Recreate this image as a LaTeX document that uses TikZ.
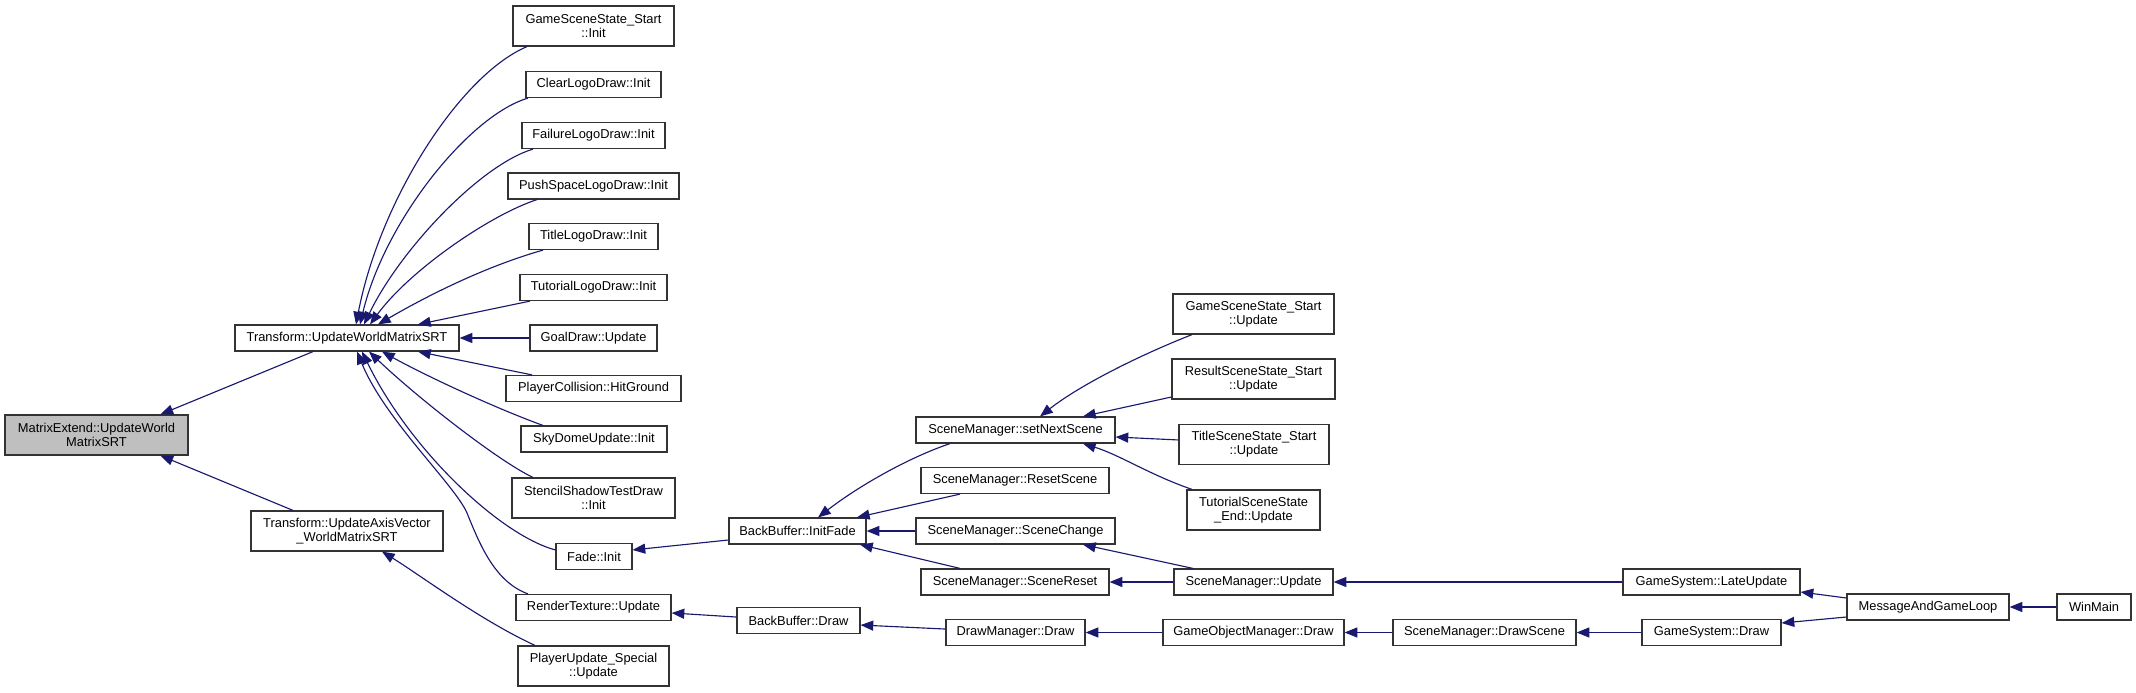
\documentclass[tikz,border=0pt]{standalone}
\usepackage{fontspec}
\setmainfont{Liberation Sans}
\usepackage{tikz}
\usetikzlibrary{arrows.meta}
\usepackage{xcolor}
\definecolor{edgeblue}{HTML}{191970}
\definecolor{boxline}{HTML}{333333}
\definecolor{focusgray}{HTML}{BFBFBF}

\begin{document}
\begin{tikzpicture}[
  x=0.75pt,y=-0.75pt,
  fn/.style={draw=boxline,line width=0.9pt,fill=white,inner sep=0pt,align=center,minimum height=19.5pt,font=\fontsize{9.65}{10.5}\selectfont},
  fntwo/.style={fn,minimum height=30pt},
  focus/.style={fntwo,fill=focusgray},
  arr/.style={-{Triangle[length=9.5pt,width=7.5pt]},line width=0.85pt,edgeblue}
]
\useasboundingbox (0,0) rectangle (2136,692);

\node[focus,minimum width=137.25pt] (mat) at (96.5,435) {MatrixExtend::UpdateWorld\\MatrixSRT};
\node[fn,minimum width=168pt] (tuwm) at (347,338) {Transform::UpdateWorldMatrixSRT};
\node[fntwo,minimum width=144pt] (tuav) at (347,531) {Transform::UpdateAxisVector\\\_WorldMatrixSRT};

\node[fntwo,minimum width=120.75pt] (gssInit) at (593.5,26) {GameSceneState\_Start\\::Init};
\node[fn,minimum width=101.25pt] (clearInit) at (593.5,84.5) {ClearLogoDraw::Init};
\node[fn,minimum width=107.25pt] (failInit) at (593.5,135.5) {FailureLogoDraw::Init};
\node[fn,minimum width=128.25pt] (pushInit) at (593.5,186) {PushSpaceLogoDraw::Init};
\node[fn,minimum width=96.75pt] (titleInit) at (593.5,236.5) {TitleLogoDraw::Init};
\node[fn,minimum width=110.25pt] (tutInit) at (593.5,287.5) {TutorialLogoDraw::Init};
\node[fn,minimum width=95.25pt] (goalUpd) at (593.5,338) {GoalDraw::Update};
\node[fn,minimum width=131.25pt] (pcolHit) at (593.5,388.5) {PlayerCollision::HitGround};
\node[fn,minimum width=109.5pt] (skyInit) at (594,439) {SkyDomeUpdate::Init};
\node[fntwo,minimum width=122.25pt] (stenInit) at (593.5,498) {StencilShadowTestDraw\\::Init};
\node[fn,minimum width=57pt] (fadeInit) at (594,556.5) {Fade::Init};
\node[fn,minimum width=116.25pt] (rtexUpd) at (593.5,607.5) {RenderTexture::Update};
\node[fntwo,minimum width=113.25pt] (pusUpd) at (593.5,666) {PlayerUpdate\_Special\\::Update};

\node[fn,minimum width=102.75pt] (bbFade) at (797.5,531) {BackBuffer::InitFade};
\node[fn,minimum width=92.25pt] (bbDraw) at (798.5,620.5) {BackBuffer::Draw};

\node[fn,minimum width=149.25pt] (smNext) at (1015.5,430) {SceneManager::setNextScene};
\node[fn,minimum width=141pt] (smReset) at (1015,480.5) {SceneManager::ResetScene};
\node[fn,minimum width=149.25pt] (smChange) at (1015.5,531) {SceneManager::SceneChange};
\node[fn,minimum width=141pt] (smSceneReset) at (1015,582) {SceneManager::SceneReset};
\node[fn,minimum width=104.25pt] (dmDraw) at (1015.5,632.5) {DrawManager::Draw};

\node[fntwo,minimum width=120.75pt] (gssUpd) at (1253.5,314) {GameSceneState\_Start\\::Update};
\node[fntwo,minimum width=122.25pt] (rssUpd) at (1253.5,379) {ResultSceneState\_Start\\::Update};
\node[fntwo,minimum width=112.5pt] (tssUpd) at (1254,444.5) {TitleSceneState\_Start\\::Update};
\node[fntwo,minimum width=99.75pt] (tseUpd) at (1253.5,510) {TutorialSceneState\\\_End::Update};
\node[fn,minimum width=119.25pt] (smUpd) at (1253.5,582) {SceneManager::Update};
\node[fn,minimum width=135.75pt] (gomDraw) at (1253.5,632.5) {GameObjectManager::Draw};

\node[fn,minimum width=137.25pt] (smDrawScene) at (1484.5,632.5) {SceneManager::DrawScene};
\node[fn,minimum width=132.75pt] (gsLate) at (1711.5,582) {GameSystem::LateUpdate};
\node[fn,minimum width=104.25pt] (gsDraw) at (1711.5,632.5) {GameSystem::Draw};
\node[fn,minimum width=121.5pt] (loop) at (1928,607) {MessageAndGameLoop};
\node[fn,minimum width=55.5pt] (winmain) at (2094,607) {WinMain};

% straight calls
\foreach \src/\dst in {goalUpd/tuwm,smChange/bbFade,gomDraw/dmDraw,smDrawScene/gomDraw,gsDraw/smDrawScene,winmain/loop,gsLate/smUpd,smUpd/smSceneReset}
  \draw[arr] (\src.west) -- (\dst.east);

\draw[arr] ([xshift=-25.5pt]tuwm.south) -- ([xshift=48pt]mat.north);
\draw[arr] ([xshift=-40.5pt]tuav.north) -- ([xshift=48pt]mat.south);
\draw[arr] ([xshift=-43.9pt]pusUpd.north) .. controls (480,620) and (420,575) .. ([xshift=26.25pt]tuav.south);

% fan into UpdateWorldMatrixSRT
\draw[arr] ([xshift=-49.9pt]gssInit.south) .. controls (460,75) and (380,200) .. ([xshift=6.75pt]tuwm.north);
\draw[arr] ([xshift=-49.1pt]clearInit.south) .. controls (470,115) and (385,220) .. ([xshift=9.75pt]tuwm.north);
\draw[arr] ([xshift=-45.4pt]failInit.south) .. controls (480,165) and (400,250) .. ([xshift=12.75pt]tuwm.north);
\draw[arr] ([xshift=-42.4pt]pushInit.south) .. controls (490,215) and (410,270) .. ([xshift=17.25pt]tuwm.north);
\draw[arr] ([xshift=-37.9pt]titleInit.south) .. controls (480,268) and (420,300) .. ([xshift=23.25pt]tuwm.north);
\draw[arr] ([xshift=-47.6pt]tutInit.south) -- ([xshift=53.25pt]tuwm.north);
\draw[arr] ([xshift=-46.1pt]pcolHit.north) -- ([xshift=53.25pt]tuwm.south);
\draw[arr] ([xshift=-38.25pt]skyInit.north) .. controls (500,410) and (430,378) .. ([xshift=26.25pt]tuwm.south);
\draw[arr] ([xshift=-45.4pt]stenInit.north) .. controls (500,462) and (420,400) .. ([xshift=16.5pt]tuwm.south);
\draw[arr] ([yshift=4.9pt]fadeInit.west) .. controls (500,535) and (410,450) .. ([xshift=11.25pt]tuwm.south);
\draw[arr] ([xshift=-49.1pt]rtexUpd.north) .. controls (495,582) and (480,545) .. (467,513) .. controls (455,485) and (385,420) .. ([xshift=7.5pt]tuwm.south);

\draw[arr] ([yshift=-6.75pt]bbFade.west) -- ([yshift=4.9pt]fadeInit.east);
\draw[arr] ([yshift=2.6pt]bbDraw.west) -- ([yshift=-4.1pt]rtexUpd.east);
\draw[arr] ([xshift=-49.1pt]smNext.south) .. controls (910,457) and (860,485) .. ([xshift=15.4pt]bbFade.north);
\draw[arr] ([xshift=-41.25pt]smReset.south) -- ([xshift=44.6pt]bbFade.north);
\draw[arr] ([xshift=-41.25pt]smSceneReset.north) -- ([xshift=46.9pt]bbFade.south);
\draw[arr] ([yshift=2.6pt]dmDraw.west) -- ([yshift=-3.4pt]bbDraw.east);

\draw[arr] ([xshift=-46.1pt]gssUpd.south) .. controls (1140,355) and (1080,385) .. ([xshift=18.4pt]smNext.north);
\draw[arr] ([yshift=-13.5pt]rssUpd.west) -- ([xshift=50.6pt]smNext.north);
\draw[arr] ([yshift=3.4pt]tssUpd.west) -- ([yshift=-5.25pt]smNext.east);
\draw[arr] ([xshift=-46.1pt]tseUpd.north) .. controls (1150,475) and (1120,455) .. ([xshift=50.6pt]smNext.south);
\draw[arr] ([xshift=-45.4pt]smUpd.north) -- ([xshift=50.6pt]smChange.south);

\draw[arr] ([yshift=-7.5pt]loop.west) -- ([yshift=7.1pt]gsDraw.east);
\draw[arr] ([yshift=6.75pt]loop.west) -- ([yshift=-7.5pt]gsLate.east);
\end{tikzpicture}
\end{document}
